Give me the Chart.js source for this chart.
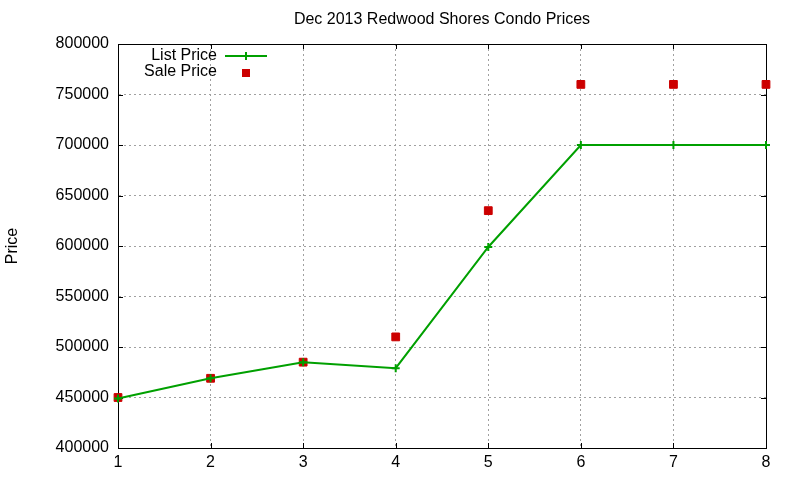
<!DOCTYPE html>
<html>
<head>
<meta charset="utf-8">
<script src="https://cdn.jsdelivr.net/npm/chart.js@4.4.1/dist/chart.umd.min.js"></script>
<style>
  html, body { margin: 0; padding: 0; background: #fff; }
</style>
</head>
<body>
<canvas id="chart" width="800" height="480"></canvas>
<script>
// unit number on the x axis
let units = [1, 2, 3, 4, 5, 6, 7, 8];
let listPrice = [449000, 469000, 485000, 479000, 599000, 700000, 700000, 700000];
let salePrice = [450000, 469000, 485000, 510000, 635000, 760000, 760000, 760000];

let yMin = 400000, yMax = 800000, yStep = 50000;
let title = 'Dec 2013 Redwood Shores Condo Prices';

let green = 'rgb(0,160,0)';
let red = 'rgb(204,0,0)';
let font = '"Liberation Sans", Arial, sans-serif';

// gnuplot style: box round the plot, small inward ticks on all four sides
let framePlugin = {
    id: 'frame',
    beforeDatasetsDraw(c) {
        let a = c.chartArea, ctx = c.ctx;
        let x = c.scales.x, y = c.scales.y;
        ctx.save();
        ctx.strokeStyle = '#000';
        ctx.lineWidth = 1;
        ctx.beginPath();
        x.ticks.forEach((t, i) => {
            let px = Math.round(x.getPixelForTick(i)) + 0.5;
            ctx.moveTo(px, a.bottom); ctx.lineTo(px, a.bottom - 5);
            ctx.moveTo(px, a.top); ctx.lineTo(px, a.top + 5);
        });
        y.ticks.forEach((t, i) => {
            let py = Math.round(y.getPixelForTick(i)) + 0.5;
            ctx.moveTo(a.left, py); ctx.lineTo(a.left + 5, py);
            ctx.moveTo(a.right, py); ctx.lineTo(a.right - 5, py);
        });
        ctx.stroke();
        ctx.strokeRect(Math.round(a.left) + 0.5, Math.round(a.top) + 0.5,
            Math.round(a.right - a.left), Math.round(a.bottom - a.top));
        // title centred over the plot box
        ctx.font = '16px ' + font;
        ctx.fillStyle = '#000';
        ctx.textAlign = 'center';
        ctx.textBaseline = 'middle';
        ctx.fillText(title, (a.left + a.right) / 2, 20);
        ctx.restore();
    }
};

// legend inside the plot, text right aligned, sample to the right
let keyPlugin = {
    id: 'key',
    afterDraw(c) {
        let ctx = c.ctx;
        let textRight = 217, sx1 = 225, sx2 = 267, sxm = 246;
        ctx.save();
        ctx.font = '16px ' + font;
        ctx.fillStyle = '#000';
        ctx.textAlign = 'right';
        ctx.textBaseline = 'middle';
        c.data.datasets.forEach((ds, i) => {
            let yy = 56 + i * 16;
            ctx.fillText(ds.label, textRight, yy);
            if (ds.showLine !== false) {
                ctx.strokeStyle = ds.borderColor;
                ctx.lineWidth = 2;
                ctx.beginPath();
                ctx.moveTo(sx1, yy); ctx.lineTo(sx2, yy);
                ctx.moveTo(sxm, yy - 4); ctx.lineTo(sxm, yy + 4);
                ctx.stroke();
            } else {
                ctx.fillStyle = ds.backgroundColor;
                ctx.fillRect(sxm - 4, yy - 4 + 1, 8, 8);
                ctx.fillStyle = '#000';
            }
        });
        ctx.restore();
    }
};

let chart = document.getElementById('chart').getContext('2d');
let priceChart = new Chart(chart, {
    type: 'line',
    data: {
        datasets: [{
            label: 'List Price',
            data: units.map((u, i) => ({x: u, y: listPrice[i]})),
            borderColor: green,
            backgroundColor: green,
            borderWidth: 2,
            pointStyle: 'cross',
            pointRadius: 4,
            pointBorderWidth: 2,
            tension: 0,
            clip: false
        }, {
            label: 'Sale Price',
            data: units.map((u, i) => ({x: u, y: salePrice[i]})),
            showLine: false,
            borderColor: red,
            backgroundColor: red,
            pointStyle: 'rect',
            pointRadius: 5.5,
            pointBorderWidth: 1,
            clip: false
        }]
    },
    options: {
        responsive: false,
        animation: false,
        layout: {padding: {left: 0, right: 34, top: 44, bottom: 0}},
        plugins: {
            legend: {display: false},
            tooltip: {enabled: false},
            title: {display: false}
        },
        scales: {
            x: {
                type: 'linear',
                min: 1,
                max: 8,
                ticks: {
                    stepSize: 1,
                    color: '#000',
                    padding: 5,
                    font: {family: font, size: 16}
                },
                grid: {
                    color: '#a0a0a0',
                    drawTicks: false
                },
                border: {display: true, color: '#000', dash: [2, 3]},
                afterFit(s) { s.height = 32; }
            },
            y: {
                min: yMin,
                max: yMax,
                ticks: {
                    stepSize: yStep,
                    color: '#000',
                    padding: 9,
                    font: {family: font, size: 16},
                    callback: v => String(v)
                },
                grid: {
                    color: '#a0a0a0',
                    drawTicks: false
                },
                border: {display: true, color: '#000', dash: [2, 3]},
                title: {
                    display: true,
                    text: 'Price',
                    color: '#000',
                    font: {family: font, size: 16},
                    padding: {top: 3, bottom: 0}
                },
                afterFit(s) { s.width = 118; }
            }
        }
    },
    plugins: [framePlugin, keyPlugin]
});
</script>
</body>
</html>
